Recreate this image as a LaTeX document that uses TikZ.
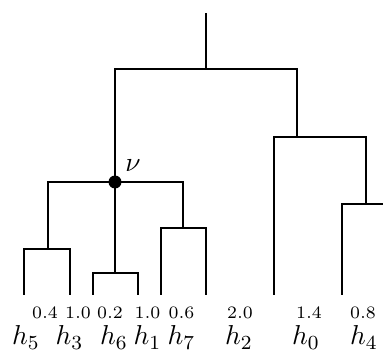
\documentclass[tikz,border=0pt]{standalone}
\usepackage{amsmath,amssymb}
\usepackage{tikz}
\usetikzlibrary{positioning, calc}

\begin{document}
\begin{tikzpicture}[x=0.4pt,y=-0.4pt,line width=0.8pt,
  mergedot/.style={circle,fill=black,inner sep=0pt,minimum size=5.2pt},
  wlabel/.style={anchor=base,font=\fontsize{7.4}{8}\selectfont},
  hlabel/.style={anchor=base,font=\fontsize{11}{12}\selectfont}]
  \useasboundingbox (0,0) rectangle (383,354);
  % merge points
  \coordinate (top) at (206,13);
  \coordinate (root) at (206,69);
  \node[mergedot] (nu) at (115,182) {};
  \coordinate (a) at (48,249);
  \coordinate (b) at (115,273);
  \coordinate (c) at (183,228);
  \coordinate (r) at (297,137);
  \coordinate (d) at (366,204);
  % leaves
  \foreach \x [count=\i] in {24,70,93,138,161,206,274,342,390}
    {\coordinate (leaf\i) at (\x,295);}
  \draw (top) -- (root);
  \draw (nu.center) |- (root) -| (r);
  \draw (a) |- (nu.center) -| (c);
  \draw (nu.center) -- (b);
  \draw (leaf1) |- (a) -| (leaf2);
  \draw (leaf3) |- (b) -| (leaf4);
  \draw (leaf5) |- (c) -| (leaf6);
  \draw (leaf7) |- (r) -| (d);
  \draw (leaf8) |- (d) -| (leaf9);
  \node[hlabel] (nulab) at (133,172) {\(\nu\)};
  % weights and hypotheses
  \foreach \x/\w [count=\i] in {45/0.4,78/1.0,110/0.2,147.5/1.0,181.5/0.6,240/2.0,309/1.4,363/0.8}
    {\node[wlabel] (w\i) at (\x,318.5) {\(\w\)};}
  \foreach \x/\h [count=\i] in {26/5,69.5/3,114/6,147.5/1,181.5/7,239/2,306/0,364/4}
    {\node[hlabel] (h\i) at (\x,345) {\(h_{\h}\)};}
\end{tikzpicture}
\end{document}
